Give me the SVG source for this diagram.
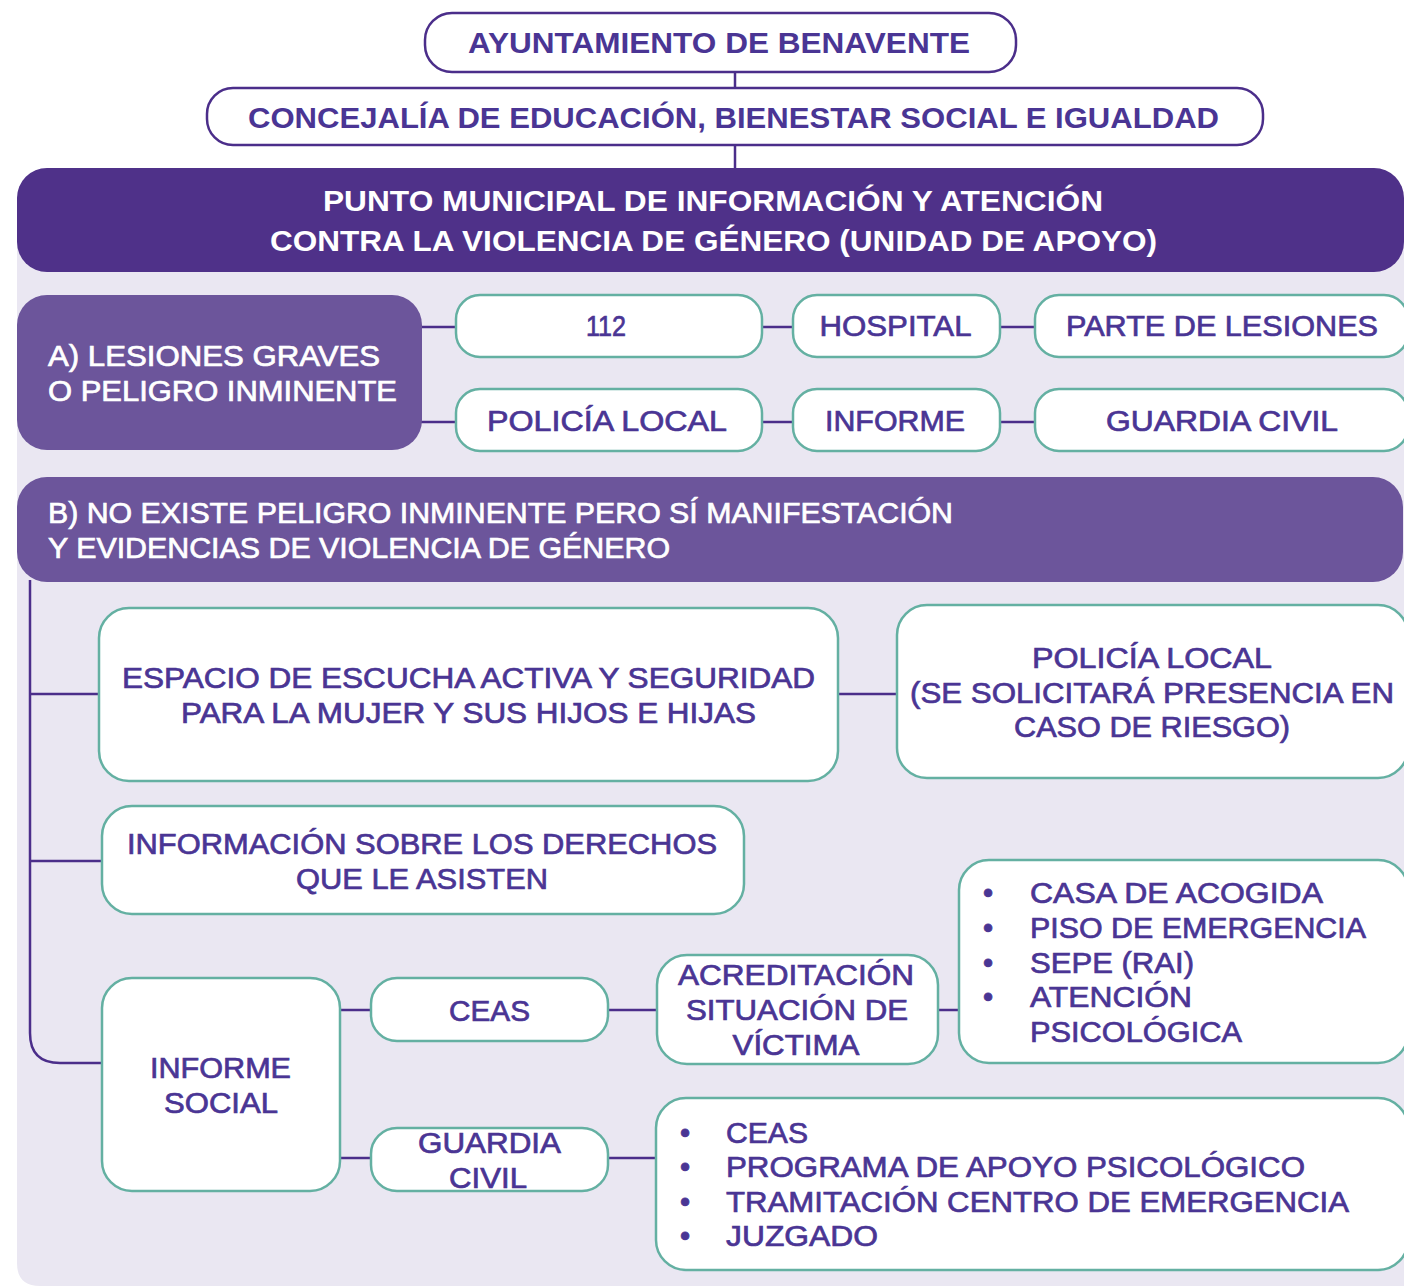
<svg xmlns="http://www.w3.org/2000/svg" width="1404" height="1286" viewBox="0 0 1404 1286">
<defs>
<style>
.bg{fill:#EAE7F2}
.title{fill:#fff;stroke:#4B2E8A;stroke-width:2.5}
.dark{fill:#4F3189}
.mid{fill:#6C559B}
.node{fill:#fff;stroke:#64B0A2;stroke-width:2.5}
.conn{fill:none;stroke:#4B2E8A;stroke-width:2.5}
text{font-family:"Liberation Sans",Arial,sans-serif;font-size:29px;fill:#4A3594;stroke:#4A3594;stroke-width:0.7}
.b{font-weight:bold;stroke-width:0}
.w{fill:#fff;stroke:#fff}
.c{text-anchor:middle}
</style>
</defs>
<rect width="1404" height="1286" fill="#fff"/>
<path class="bg" d="M17 220 H1404 V1286 H40 Q17 1286 17 1263 Z"/>

<g id="connectors">
<line class="conn" x1="735" y1="72" x2="735" y2="88"/>
<line class="conn" x1="735" y1="145" x2="735" y2="168"/>
<line class="conn" x1="420" y1="327" x2="456" y2="327"/>
<line class="conn" x1="420" y1="422" x2="456" y2="422"/>
<line class="conn" x1="762" y1="327" x2="793" y2="327"/>
<line class="conn" x1="762" y1="422" x2="793" y2="422"/>
<line class="conn" x1="1000" y1="327" x2="1035" y2="327"/>
<line class="conn" x1="1000" y1="422" x2="1035" y2="422"/>
<path class="conn" d="M30 580 V1033 Q30 1063 60 1063 H102"/>
<line class="conn" x1="30" y1="694" x2="99" y2="694"/>
<line class="conn" x1="30" y1="861" x2="102" y2="861"/>
<line class="conn" x1="838" y1="694" x2="897" y2="694"/>
<line class="conn" x1="340" y1="1010" x2="371" y2="1010"/>
<line class="conn" x1="608" y1="1010" x2="657" y2="1010"/>
<line class="conn" x1="938" y1="1010" x2="959" y2="1010"/>
<line class="conn" x1="340" y1="1158" x2="371" y2="1158"/>
<line class="conn" x1="608" y1="1158" x2="656" y2="1158"/>
</g>

<g id="ayuntamiento">
<rect class="title" x="425" y="13" width="591" height="59" rx="27"/>
<text class="b c" x="719" y="53" textLength="502" lengthAdjust="spacingAndGlyphs">AYUNTAMIENTO DE BENAVENTE</text>
</g>
<g id="concejalia">
<rect class="title" x="207" y="88" width="1056" height="57" rx="26"/>
<text class="b c" x="733.5" y="128" textLength="971" lengthAdjust="spacingAndGlyphs">CONCEJALÍA DE EDUCACIÓN, BIENESTAR SOCIAL E IGUALDAD</text>
</g>
<g id="punto">
<rect class="dark" x="17" y="168" width="1387" height="104" rx="30"/>
<text class="b c w" x="713" y="211" textLength="780" lengthAdjust="spacingAndGlyphs">PUNTO MUNICIPAL DE INFORMACIÓN Y ATENCIÓN</text>
<text class="b c w" x="713.5" y="251" textLength="887" lengthAdjust="spacingAndGlyphs">CONTRA LA VIOLENCIA DE GÉNERO (UNIDAD DE APOYO)</text>
</g>

<g id="caso-a">
<rect class="mid" x="17" y="295" width="405" height="155" rx="30"/>
<text class="w" x="48" y="366" textLength="332" lengthAdjust="spacingAndGlyphs">A) LESIONES GRAVES</text>
<text class="w" x="48" y="401" textLength="349" lengthAdjust="spacingAndGlyphs">O PELIGRO INMINENTE</text>
</g>
<g id="n112">
<rect class="node" x="456" y="295" width="306" height="62" rx="24"/>
<text class="c" x="606" y="336" textLength="40" lengthAdjust="spacingAndGlyphs">112</text>
</g>
<g id="hospital">
<rect class="node" x="793" y="295" width="207" height="62" rx="24"/>
<text class="c" x="895.5" y="336" textLength="152" lengthAdjust="spacingAndGlyphs">HOSPITAL</text>
</g>
<g id="parte-lesiones">
<rect class="node" x="1035" y="295" width="373" height="62" rx="24"/>
<text class="c" x="1222" y="336" textLength="312" lengthAdjust="spacingAndGlyphs">PARTE DE LESIONES</text>
</g>
<g id="policia-local-a">
<rect class="node" x="456" y="389" width="306" height="62" rx="24"/>
<text class="c" x="607" y="431" textLength="240" lengthAdjust="spacingAndGlyphs">POLICÍA LOCAL</text>
</g>
<g id="informe">
<rect class="node" x="793" y="389" width="207" height="62" rx="24"/>
<text class="c" x="895" y="431" textLength="140" lengthAdjust="spacingAndGlyphs">INFORME</text>
</g>
<g id="guardia-civil-a">
<rect class="node" x="1035" y="389" width="373" height="62" rx="24"/>
<text class="c" x="1222" y="431" textLength="232" lengthAdjust="spacingAndGlyphs">GUARDIA CIVIL</text>
</g>

<g id="caso-b">
<rect class="mid" x="17" y="477" width="1386" height="105" rx="30"/>
<text class="w" x="48" y="523" textLength="905" lengthAdjust="spacingAndGlyphs">B) NO EXISTE PELIGRO INMINENTE PERO SÍ MANIFESTACIÓN</text>
<text class="w" x="48" y="558" textLength="622" lengthAdjust="spacingAndGlyphs">Y EVIDENCIAS DE VIOLENCIA DE GÉNERO</text>
</g>
<g id="espacio-escucha">
<rect class="node" x="99" y="608" width="739" height="173" rx="30"/>
<text class="c" x="468.5" y="688" textLength="693" lengthAdjust="spacingAndGlyphs">ESPACIO DE ESCUCHA ACTIVA Y SEGURIDAD</text>
<text class="c" x="468.5" y="723" textLength="575" lengthAdjust="spacingAndGlyphs">PARA LA MUJER Y SUS HIJOS E HIJAS</text>
</g>
<g id="policia-local-b">
<rect class="node" x="897" y="605" width="511" height="173" rx="30"/>
<text class="c" x="1152" y="668" textLength="240" lengthAdjust="spacingAndGlyphs">POLICÍA LOCAL</text>
<text class="c" x="1152" y="703" textLength="484" lengthAdjust="spacingAndGlyphs">(SE SOLICITARÁ PRESENCIA EN</text>
<text class="c" x="1152" y="737" textLength="276" lengthAdjust="spacingAndGlyphs">CASO DE RIESGO)</text>
</g>
<g id="informacion-derechos">
<rect class="node" x="102" y="806" width="642" height="108" rx="30"/>
<text class="c" x="422" y="854" textLength="590" lengthAdjust="spacingAndGlyphs">INFORMACIÓN SOBRE LOS DERECHOS</text>
<text class="c" x="422" y="889" textLength="252" lengthAdjust="spacingAndGlyphs">QUE LE ASISTEN</text>
</g>
<g id="informe-social">
<rect class="node" x="102" y="978" width="238" height="213" rx="30"/>
<text class="c" x="220.5" y="1078" textLength="141" lengthAdjust="spacingAndGlyphs">INFORME</text>
<text class="c" x="221" y="1113" textLength="114" lengthAdjust="spacingAndGlyphs">SOCIAL</text>
</g>
<g id="ceas">
<rect class="node" x="371" y="978" width="237" height="63" rx="26"/>
<text class="c" x="489.5" y="1021" textLength="81" lengthAdjust="spacingAndGlyphs">CEAS</text>
</g>
<g id="guardia-civil-b">
<rect class="node" x="371" y="1128" width="237" height="63" rx="26"/>
<text class="c" x="489.5" y="1153" textLength="143" lengthAdjust="spacingAndGlyphs">GUARDIA</text>
<text class="c" x="488" y="1188" textLength="78" lengthAdjust="spacingAndGlyphs">CIVIL</text>
</g>
<g id="acreditacion">
<rect class="node" x="657" y="955" width="281" height="109" rx="30"/>
<text class="c" x="796" y="985" textLength="236" lengthAdjust="spacingAndGlyphs">ACREDITACIÓN</text>
<text class="c" x="797" y="1020" textLength="222" lengthAdjust="spacingAndGlyphs">SITUACIÓN DE</text>
<text class="c" x="796" y="1055" textLength="127" lengthAdjust="spacingAndGlyphs">VÍCTIMA</text>
</g>
<g id="recursos">
<rect class="node" x="959" y="860" width="449" height="203" rx="30"/>
<text class="c" x="988" y="903">•</text>
<text x="1030" y="903" textLength="293" lengthAdjust="spacingAndGlyphs">CASA DE ACOGIDA</text>
<text class="c" x="988" y="938">•</text>
<text x="1030" y="938" textLength="336" lengthAdjust="spacingAndGlyphs">PISO DE EMERGENCIA</text>
<text class="c" x="988" y="973">•</text>
<text x="1030" y="973" textLength="164" lengthAdjust="spacingAndGlyphs">SEPE (RAI)</text>
<text class="c" x="988" y="1007">•</text>
<text x="1030" y="1007" textLength="162" lengthAdjust="spacingAndGlyphs">ATENCIÓN</text>
<text x="1030" y="1042" textLength="212" lengthAdjust="spacingAndGlyphs">PSICOLÓGICA</text>
</g>
<g id="actuaciones-guardia-civil">
<rect class="node" x="656" y="1098" width="752" height="172" rx="30"/>
<text class="c" x="685" y="1143">•</text>
<text x="726" y="1143" textLength="82" lengthAdjust="spacingAndGlyphs">CEAS</text>
<text class="c" x="685" y="1177">•</text>
<text x="726" y="1177" textLength="579" lengthAdjust="spacingAndGlyphs">PROGRAMA DE APOYO PSICOLÓGICO</text>
<text class="c" x="685" y="1212">•</text>
<text x="726" y="1212" textLength="623" lengthAdjust="spacingAndGlyphs">TRAMITACIÓN CENTRO DE EMERGENCIA</text>
<text class="c" x="685" y="1246">•</text>
<text x="726" y="1246" textLength="152" lengthAdjust="spacingAndGlyphs">JUZGADO</text>
</g>
</svg>
